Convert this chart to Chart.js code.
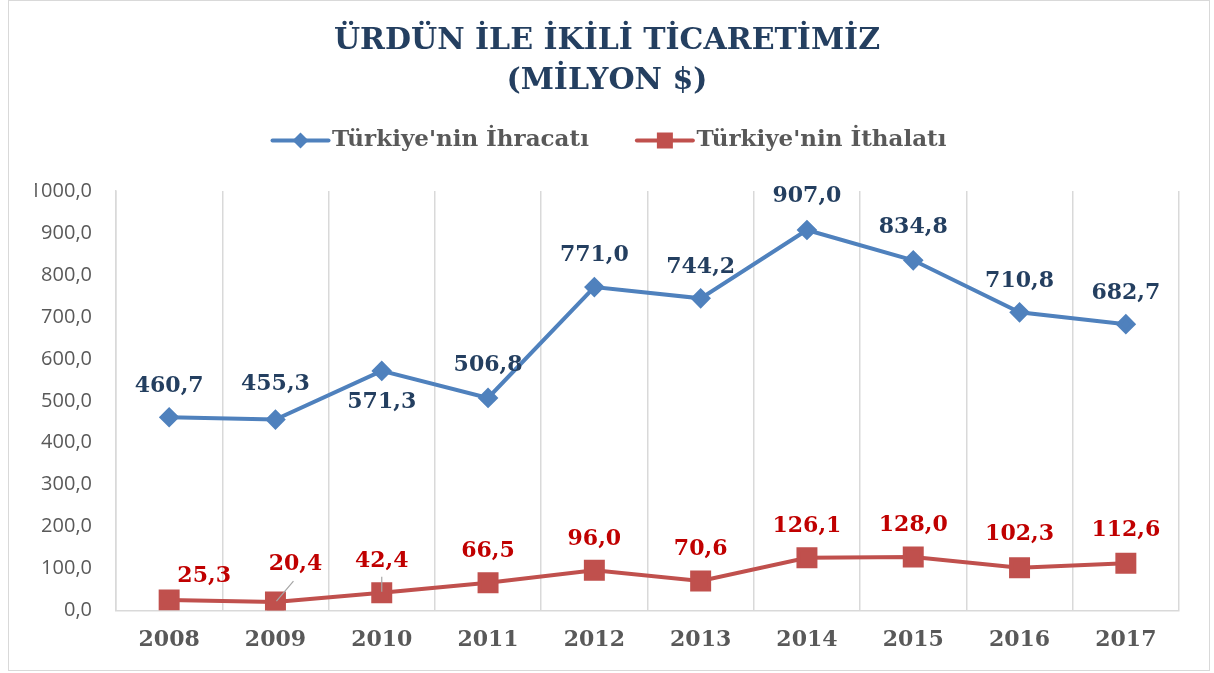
<!DOCTYPE html>
<html>
<head>
<meta charset="utf-8">
<script src="https://cdn.jsdelivr.net/npm/chart.js@4.4.1/dist/chart.umd.min.js"></script>
<style>
  html, body { margin: 0; padding: 0; background: #fff; }
  #wrap { position: relative; width: 1214px; height: 673px; }
  #grafica1 { display: block; }
  #cerceve { position: absolute; left: 8px; top: 0; width: 1200px; height: 669px; border: 1px solid #d9d9d9; pointer-events: none; }
</style>
</head>
<body>
<div id="wrap">
  <canvas id="grafica1" width="1214" height="673"></canvas>
  <div id="cerceve"></div>
</div>
<script>
// veriler
var yillar = ['2008', '2009', '2010', '2011', '2012', '2013', '2014', '2015', '2016', '2017'];
var ihracat = [460.7, 455.3, 571.3, 506.8, 771.0, 744.2, 907.0, 834.8, 710.8, 682.7];
var ithalat = [25.3, 20.4, 42.4, 66.5, 96.0, 70.6, 126.1, 128.0, 102.3, 112.6];
var seriAdlari = ["Türkiye'nin İhracatı", "Türkiye'nin İthalatı"];
var baslik = ['ÜRDÜN İLE İKİLİ TİCARETİMİZ', '(MİLYON $)'];

var mavi = '#4f81bd';
var kirmizi = '#c0504d';

// etiket kaydirmalari (piksel)
var etiketKaydir = [
    [[0, -31], [0, -35], [0, 31], [0, -33], [0, -32], [0, -31], [0, -34], [0, -33], [0, -31], [0, -31]],
    [[35, -24], [20, -38], [0, -32], [0, -31], [0, -31], [0, -32], [0, -31], [0, -32], [0, -33], [0, -33]]
];
var etiketRenk = ['#243f60', '#c00000'];
var kutuGenislik = 53;

function sayiYaz(v) {
    return v.toFixed(1).replace('.', ',');
}

var etiketler = {
    id: 'etiketler',
    afterDatasetsDraw: function(chart) {
        var ctx = chart.ctx;
        ctx.save();
        // kilavuz cizgiler
        ctx.strokeStyle = '#a6a6a6';
        ctx.lineWidth = 1.2;
        var m1 = chart.getDatasetMeta(1).data;
        ctx.beginPath();
        ctx.moveTo(m1[1].x + 18, m1[1].y - 21);
        ctx.lineTo(m1[1].x + 1, m1[1].y - 1);
        ctx.moveTo(m1[2].x, m1[2].y - 16);
        ctx.lineTo(m1[2].x, m1[2].y - 1);
        ctx.stroke();

        ctx.font = 'bold 22px "DejaVu Serif"';
        ctx.textAlign = 'center';
        ctx.textBaseline = 'middle';
        chart.data.datasets.forEach(function(ds, i) {
            var meta = chart.getDatasetMeta(i);
            ctx.fillStyle = etiketRenk[i];
            meta.data.forEach(function(p, j) {
                var k = etiketKaydir[i][j];
                ctx.fillText(sayiYaz(ds.data[j]), p.x + k[0], p.y + k[1]);
            });
        });
        ctx.restore();
    },
    // lejant isaretleri: cizgi + nokta
    afterDraw: function(chart) {
        var ctx = chart.ctx;
        var kutular = chart.legend.legendHitBoxes;
        ctx.save();
        kutular.forEach(function(h, i) {
            var ds = chart.data.datasets[i];
            var y = h.top + h.height / 2;
            var x1 = h.left + kutuGenislik - 48;
            var x2 = h.left + kutuGenislik + 8;
            var xm = (x1 + x2) / 2;
            ctx.strokeStyle = ds.borderColor;
            ctx.fillStyle = ds.borderColor;
            ctx.lineWidth = 4;
            ctx.lineCap = 'round';
            ctx.beginPath(); ctx.moveTo(x1, y); ctx.lineTo(x2, y); ctx.stroke();
            ctx.beginPath();
            if (ds.pointStyle == 'rect') {
                ctx.rect(xm - 8, y - 8, 16, 16);
            } else {
                ctx.moveTo(xm, y - 8); ctx.lineTo(xm + 8, y); ctx.lineTo(xm, y + 8); ctx.lineTo(xm - 8, y);
                ctx.closePath();
            }
            ctx.fill();
        });
        ctx.restore();
    }
};

var ctx = document.getElementById('grafica1').getContext('2d');
var myChart = new Chart(ctx, {
    type: 'line',
    data: {
        labels: yillar,
        datasets: [{
            label: seriAdlari[0],
            data: ihracat,
            borderColor: mavi,
            backgroundColor: mavi,
            borderWidth: 4,
            pointStyle: 'rectRot',
            pointRadius: 7.5,
            pointHoverRadius: 7.5,
            tension: 0
        }, {
            label: seriAdlari[1],
            data: ithalat,
            borderColor: kirmizi,
            backgroundColor: kirmizi,
            borderWidth: 4,
            pointStyle: 'rect',
            pointRadius: 12,
            pointHoverRadius: 12,
            tension: 0
        }]
    },
    plugins: [etiketler],
    options: {
        responsive: false,
        animation: false,
        layout: { padding: { left: 35, right: 35, top: 8, bottom: 4 } },
        plugins: {
            title: {
                display: true,
                text: baslik,
                color: '#243f60',
                font: { family: '"DejaVu Serif"', size: 30, weight: 'bold', lineHeight: 1.3334 },
                padding: { top: 13, bottom: -44 }
            },
            legend: {
                position: 'top',
                labels: {
                    boxWidth: kutuGenislik,
                    boxHeight: 81,
                    padding: 43,
                    color: '#595959',
                    font: { family: '"DejaVu Serif"', size: 23, weight: 'bold' },
                    generateLabels: function(chart) {
                        var items = Chart.defaults.plugins.legend.labels.generateLabels(chart);
                        items.forEach(function(it) {
                            it.fillStyle = 'rgba(0,0,0,0)';
                            it.strokeStyle = 'rgba(0,0,0,0)';
                            it.lineWidth = 0;
                        });
                        return items;
                    }
                }
            },
            tooltip: { enabled: false }
        },
        scales: {
            x: {
                offset: true,
                grid: { display: true, offset: true, color: '#d9d9d9', lineWidth: 1.5, drawTicks: false },
                border: { display: true, color: '#d9d9d9', width: 1.5 },
                ticks: {
                    color: '#595959',
                    padding: 16,
                    font: { family: '"DejaVu Serif"', size: 22, weight: 'bold' }
                }
            },
            y: {
                min: 0,
                max: 1000,
                afterFit: function(scale) { scale.width = 81; },
                grid: { display: false, drawTicks: false },
                border: { display: true, color: '#d9d9d9', width: 1.5 },
                ticks: {
                    stepSize: 100,
                    padding: 24,
                    color: '#595959',
                    font: { family: '"Open Sans"', size: 20 },
                    callback: function(v) { return sayiYaz(v); }
                }
            }
        }
    }
});
</script>
</body>
</html>
